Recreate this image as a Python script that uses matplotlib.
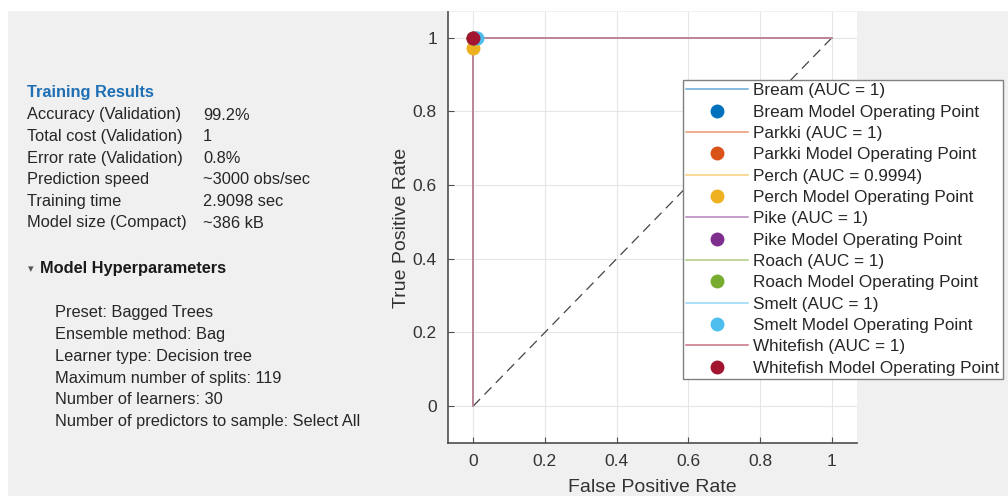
import matplotlib
matplotlib.use("Agg")
import matplotlib.pyplot as plt
from matplotlib.colors import to_rgb
from matplotlib.patches import Rectangle

plt.rcParams["font.family"] = ["Liberation Sans", "DejaVu Sans"]

W, H = 1008, 496

# summary panel text
results_names = ["Accuracy (Validation)", "Total cost (Validation)", "Error rate (Validation)",
                 "Prediction speed", "Training time", "Model size (Compact)"]
results_values = ["99.2%", "1", "0.8%", "~3000 obs/sec", "2.9098 sec", "~386 kB"]
hyperparams = ["Preset: Bagged Trees", "Ensemble method: Bag", "Learner type: Decision tree",
               "Maximum number of splits: 119", "Number of learners: 30",
               "Number of predictors to sample: Select All"]

# ROC data per class
classes = ["Bream", "Parkki", "Perch", "Pike", "Roach", "Smelt", "Whitefish"]
auc_labels = ["1", "1", "0.9994", "1", "1", "1", "1"]
colors = ["#0072BD", "#D95319", "#EDB120", "#7E2F8E", "#77AC30", "#4DBEEE", "#A2142F"]
roc_fpr = [[0, 0, 1], [0, 0, 1], [0, 0, 0.012, 1], [0, 0, 1], [0, 0, 1], [0, 0, 1], [0, 0, 1]]
roc_tpr = [[0, 1, 1], [0, 1, 1], [0, 0.97, 1, 1], [0, 1, 1], [0, 1, 1], [0, 1, 1], [0, 1, 1]]
op_fpr = [0.008, 0.0, 0.0, 0.0, 0.0, 0.011, 0.0]
op_tpr = [1.0, 1.0, 0.973, 1.0, 1.0, 1.0, 1.0]
ticks = [0, 0.2, 0.4, 0.6, 0.8, 1]


def fx(px):
    return px / W


def fy(py):
    return 1 - py / H


def lighten(c, amt=0.4):
    r, g, b = to_rgb(c)
    return (r + (1 - r) * amt, g + (1 - g) * amt, b + (1 - b) * amt)


fig = plt.figure(figsize=(W / 100, H / 100), dpi=100, facecolor="white")
fig.patches.append(Rectangle((fx(8), 0), 1, fy(11), transform=fig.transFigure,
                             facecolor="#f0f0f0", edgecolor="none", zorder=-5))

FS = 11.8
# left text panel
fig.text(fx(27), fy(92), "Training Results", color="#1f6fb5", fontsize=FS,
         fontweight="bold", va="center")
for i, (n, v) in enumerate(zip(results_names, results_values)):
    y = 115 + i * 21.6
    fig.text(fx(27), fy(y), n, color="#262626", fontsize=FS, va="center")
    fig.text(fx(203), fy(y), v, color="#262626", fontsize=FS, va="center")

fig.text(fx(28), fy(269), "\u25be", color="#555555", fontsize=8, va="center",
         family="DejaVu Sans")
fig.text(fx(40), fy(269), "Model Hyperparameters", color="#1a1a1a", fontsize=FS,
         fontweight="bold", va="center")
for i, h in enumerate(hyperparams):
    fig.text(fx(55), fy(313 + i * 21.7), h, color="#262626", fontsize=FS, va="center")

# ROC axes
ax = fig.add_axes([fx(448), fy(443), fx(857) - fx(448), fy(12) - fy(443)])
ax.set_facecolor("white")
ax.set_xlim(-0.07, 1.07)
ax.set_ylim(-0.1, 1.07)
ax.set_xticks(ticks)
ax.set_yticks(ticks)
ax.set_xticklabels(["0", "0.2", "0.4", "0.6", "0.8", "1"])
ax.set_yticklabels(["0", "0.2", "0.4", "0.6", "0.8", "1"])
ax.grid(True, color="#e6e6e6", linewidth=0.8)
ax.set_axisbelow(True)
for s in ["top", "right"]:
    ax.spines[s].set_visible(False)
for s in ["left", "bottom"]:
    ax.spines[s].set_color("#4d4d4d")
    ax.spines[s].set_linewidth(1.2)
ax.tick_params(direction="in", length=4, width=0.8, colors="#4d4d4d",
               labelsize=12.5, labelcolor="#333333", pad=8)
ax.set_xlabel("False Positive Rate", fontsize=14, color="#333333", labelpad=7)
ax.set_ylabel("True Positive Rate", fontsize=14, color="#333333", labelpad=2)

ax.plot([0, 1], [0, 1], linestyle=(0, (8, 5)), color="#444444", linewidth=0.9, zorder=2)

handles = []
for i, c in enumerate(classes):
    ln, = ax.plot(roc_fpr[i], roc_tpr[i], color=lighten(colors[i], 0.4), linewidth=1.1,
                  label=f"{c} (AUC = {auc_labels[i]})", zorder=3)
    pt, = ax.plot([op_fpr[i]], [op_tpr[i]], "o", color=colors[i], markersize=9,
                  linestyle="none", label=f"{c} Model Operating Point", zorder=4)
    handles += [ln, pt]

leg = ax.legend(handles=handles, loc="upper left", bbox_to_anchor=(fx(683), fy(80)),
                bbox_transform=fig.transFigure, fontsize=12.3, frameon=True,
                fancybox=False, edgecolor="#808080", framealpha=1, borderpad=0.2,
                labelspacing=0.37, handlelength=3.6, handletextpad=0.3, borderaxespad=0)
leg.get_frame().set_linewidth(1.0)
leg.set_zorder(10)
for t in leg.get_texts():
    t.set_color("#262626")

fig.savefig("out.png", dpi=100, facecolor=fig.get_facecolor())
